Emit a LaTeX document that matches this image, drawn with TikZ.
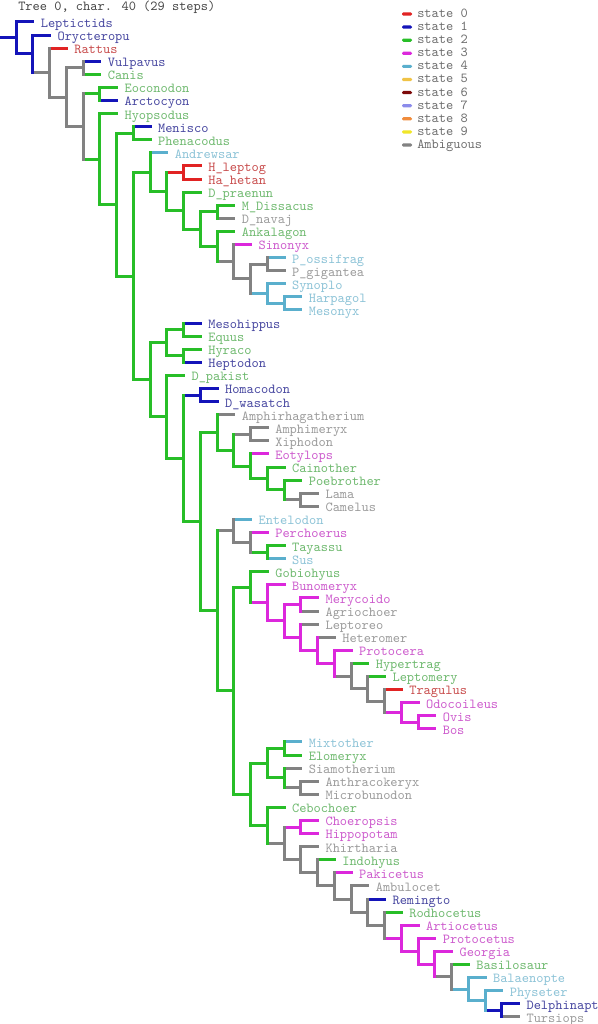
\documentclass[tikz,border=0pt]{standalone}
\usepackage{fontspec}
\usetikzlibrary{calc}

\definecolor{c0}{RGB}{225,35,35}
\definecolor{c1}{RGB}{20,20,185}
\definecolor{c2}{RGB}{40,190,40}
\definecolor{c3}{RGB}{220,40,220}
\definecolor{c4}{RGB}{90,175,205}
\definecolor{c5}{RGB}{240,195,70}
\definecolor{c6}{RGB}{125,10,10}
\definecolor{c7}{RGB}{140,140,235}
\definecolor{c8}{RGB}{240,140,60}
\definecolor{c9}{RGB}{240,230,40}
\definecolor{ca}{RGB}{130,130,130}
\definecolor{tc0}{RGB}{200,75,75}
\definecolor{tc1}{RGB}{70,70,160}
\definecolor{tc2}{RGB}{110,185,110}
\definecolor{tc3}{RGB}{205,90,205}
\definecolor{tc4}{RGB}{140,195,215}
\definecolor{tca}{RGB}{155,155,155}
\definecolor{lg}{RGB}{110,110,110}
\definecolor{tx}{RGB}{70,70,70}

\newcommand{\stp}{16.75}
% clade: name, depth, first child, last child, colour
\newcommand{\clade}[5]{%
  \path let \p1=($(#3)!.5!(#4)$), \p2=({16+#2*\stp},0) in (\x2,\y1) coordinate (#1);
  \draw[br,color=#5] (#1 |- #3) -- (#1 |- #4);
  \draw[br,color=#5] (#1) -- ++(-\stp,0);}

\begin{document}
\begin{tikzpicture}[x=0.75pt, y=-0.75pt, br/.style={line width=2.25pt, line cap=rect}, lab/.style={anchor=base west, inner sep=0pt, font=\ttfamily\fontsize{10.3}{11}\selectfont}, swatch/.style={inner sep=0pt, minimum width=7.5pt, minimum height=2.4pt, rounded corners=1pt}]
\path[fill=white] (0,0) rectangle (598,1024);
\useasboundingbox (0,0) rectangle (598,1024);
\node[lab,text=tx] (title) at (18,10.5) {Tree 0, char. 40 (29 steps)};

\foreach \col/\lb [count=\i from 0] in {c0/state 0, c1/state 1, c2/state 2, c3/state 3, c4/state 4, c5/state 5, c6/state 6, c7/state 7, c8/state 8, c9/state 9, ca/Ambiguous}{
  \node[swatch,fill=\col] (sw\i) at (407,{14+13.1*\i}) {};
  \node[lab,text=lg] (lg\i) at ($(sw\i)+(10,3.5)$) {\lb};
}

\foreach \nm/\lb/\dep/\col [count=\i from 0] in {
  lepti/Leptictids/1/c1, oryct/Orycteropu/2/c1, ratt/Rattus/3/c0, vulp/Vulpavus/5/c1, canis/Canis/5/c2,
  eocon/Eoconodon/6/c2, arcto/Arctocyon/6/c1, hyops/Hyopsodus/6/c2, menis/Menisco/8/c1, phena/Phenacodus/8/c2,
  andre/Andrewsar/9/c4, hlept/H\_leptog/11/c0, hahet/Ha\_hetan/11/c0, dprae/D\_praenun/11/c2,
  mdiss/M\_Dissacus/13/c2, dnava/D\_navaj/13/ca, ankal/Ankalagon/13/c2, sinon/Sinonyx/14/c3,
  possi/P\_ossifrag/16/c4, pgiga/P\_gigantea/16/ca, synop/Synoplo/16/c4, harpa/Harpagol/17/c4, mesny/Mesonyx/17/c4,
  meshi/Mesohippus/11/c1, equus/Equus/11/c2, hyrac/Hyraco/11/c2, hepto/Heptodon/11/c1, dpaki/D\_pakist/10/c2,
  homac/Homacodon/12/c1, dwasa/D\_wasatch/12/c1, amphr/Amphirhagatherium/13/ca, amphm/Amphimeryx/15/ca,
  xipho/Xiphodon/15/ca, eotyl/Eotylops/15/c3, caino/Cainother/16/c2, poebr/Poebrother/17/c2, lama/Lama/18/ca,
  camel/Camelus/18/ca, entel/Entelodon/14/c4, perch/Perchoerus/15/c3, tayas/Tayassu/16/c2, sus/Sus/16/c4,
  gobio/Gobiohyus/15/c2, bunom/Bunomeryx/16/c3, meryc/Merycoido/18/c3, agrio/Agriochoer/18/ca, lepto/Leptoreo/18/ca,
  heter/Heteromer/19/ca, proto/Protocera/20/c3, hyper/Hypertrag/21/c2, leptm/Leptomery/22/c2, tragu/Tragulus/23/c0,
  odoco/Odocoileus/24/c3, ovis/Ovis/25/c3, bos/Bos/25/c3, mixto/Mixtother/17/c4, elome/Elomeryx/17/c2,
  siamo/Siamotherium/17/ca, anthr/Anthracokeryx/18/ca, micro/Microbunodon/18/ca, cebo/Cebochoer/16/c2,
  choer/Choeropsis/18/c3, hippo/Hippopotam/18/c3, khirt/Khirtharia/18/ca, indoh/Indohyus/19/c2, pakic/Pakicetus/20/c3,
  ambul/Ambulocet/21/ca, remin/Remingto/22/c1, rodho/Rodhocetus/23/c2, artio/Artiocetus/24/c3, protc/Protocetus/25/c3,
  georg/Georgia/26/c3, basil/Basilosaur/27/c2, balae/Balaenopte/28/c4, physe/Physeter/29/c4, delph/Delphinapt/30/c1,
  tursi/Tursiops/30/ca}{
  \coordinate (\nm) at ({16+\dep*\stp},{22+13.09*\i});
  \draw[br,color=\col] (\nm) -- ++(-\stp,0);
  \node[lab,text=t\col] (t\nm) at ($(\nm)+(7.8,5.4)$) {\lb};
}

\clade{nd}{4}{vulp}{canis}{ca}
\clade{nf}{5}{eocon}{arcto}{c2}
\clade{nk3}{10}{hlept}{hahet}{c0}
\clade{nk6}{12}{mdiss}{dnava}{c2}
\clade{nk10}{15}{possi}{pgiga}{ca}
\clade{nk12}{16}{harpa}{mesny}{c4}
\clade{nk11}{15}{synop}{nk12}{c4}
\clade{nk9}{14}{nk10}{nk11}{ca}
\clade{nk8}{13}{sinon}{nk9}{ca}
\clade{nk7}{12}{ankal}{nk8}{c2}
\clade{nk5}{11}{nk6}{nk7}{c2}
\clade{nk4}{10}{dprae}{nk5}{c2}
\clade{nk2}{9}{nk3}{nk4}{c2}
\clade{nk}{8}{andre}{nk2}{c2}
\clade{ni}{7}{menis}{phena}{c2}
\clade{nm1}{10}{meshi}{equus}{c2}
\clade{nm2}{10}{hyrac}{hepto}{c2}
\clade{nm}{9}{nm1}{nm2}{c2}
\clade{np}{11}{homac}{dwasa}{c1}
\clade{nq1a}{14}{amphm}{xipho}{ca}
\clade{nr4}{17}{lama}{camel}{ca}
\clade{nr3}{16}{poebr}{nr4}{c2}
\clade{nr2}{15}{caino}{nr3}{c2}
\clade{nr}{14}{eotyl}{nr2}{c2}
\clade{nq1b}{13}{nq1a}{nr}{c2}
\clade{nq1}{12}{amphr}{nq1b}{c2}
\clade{ns3}{15}{tayas}{sus}{c2}
\clade{ns2}{14}{perch}{ns3}{ca}
\clade{ns}{13}{entel}{ns2}{ca}
\clade{nu12}{24}{ovis}{bos}{c3}
\clade{nu11}{23}{odoco}{nu12}{c3}
\clade{nu10}{22}{tragu}{nu11}{ca}
\clade{nu9}{21}{leptm}{nu10}{ca}
\clade{nu8}{20}{hyper}{nu9}{ca}
\clade{nu7}{19}{proto}{nu8}{c3}
\clade{nu6}{18}{heter}{nu7}{c3}
\clade{nu5}{17}{lepto}{nu6}{c3}
\clade{nu4}{17}{meryc}{agrio}{c3}
\clade{nu3}{16}{nu4}{nu5}{c3}
\clade{nu2}{15}{bunom}{nu3}{c3}
\clade{nu}{14}{gobio}{nu2}{c2}
\clade{nv1a}{16}{mixto}{elome}{c2}
\clade{nv1c}{17}{anthr}{micro}{ca}
\clade{nv1b}{16}{siamo}{nv1c}{c2}
\clade{nv1}{15}{nv1a}{nv1b}{c2}
\clade{nw14}{29}{delph}{tursi}{c1}
\clade{nw13}{28}{physe}{nw14}{c4}
\clade{nw12}{27}{balae}{nw13}{c4}
\clade{nw11}{26}{basil}{nw12}{ca}
\clade{nw10}{25}{georg}{nw11}{c3}
\clade{nw9}{24}{protc}{nw10}{c3}
\clade{nw8}{23}{artio}{nw9}{c3}
\clade{nw7}{22}{rodho}{nw8}{ca}
\clade{nw6}{21}{remin}{nw7}{ca}
\clade{nw5}{20}{ambul}{nw6}{ca}
\clade{nw4}{19}{pakic}{nw5}{ca}
\clade{nw3}{18}{indoh}{nw4}{ca}
\clade{nw2}{17}{khirt}{nw3}{ca}
\clade{nw1}{17}{choer}{hippo}{c3}
\clade{nw}{16}{nw1}{nw2}{ca}
\clade{nv2}{15}{cebo}{nw}{c2}
\clade{nv}{14}{nv1}{nv2}{c2}
\clade{nt}{13}{nu}{nv}{c2}
\clade{nq2}{12}{ns}{nt}{c2}
\clade{nq}{11}{nq1}{nq2}{c2}
\clade{no}{10}{np}{nq}{c2}
\clade{nn}{9}{dpaki}{no}{c2}
\clade{nl}{8}{nm}{nn}{c2}
\clade{nj}{7}{nk}{nl}{c2}
\clade{nh}{6}{ni}{nj}{c2}
\clade{ng}{5}{hyops}{nh}{c2}
\clade{ne}{4}{nf}{ng}{ca}
\clade{nc}{3}{nd}{ne}{ca}
\clade{nb}{2}{ratt}{nc}{ca}
\clade{na}{1}{oryct}{nb}{c1}
\clade{nroot}{0}{lepti}{na}{c1}
\end{tikzpicture}
\end{document}
